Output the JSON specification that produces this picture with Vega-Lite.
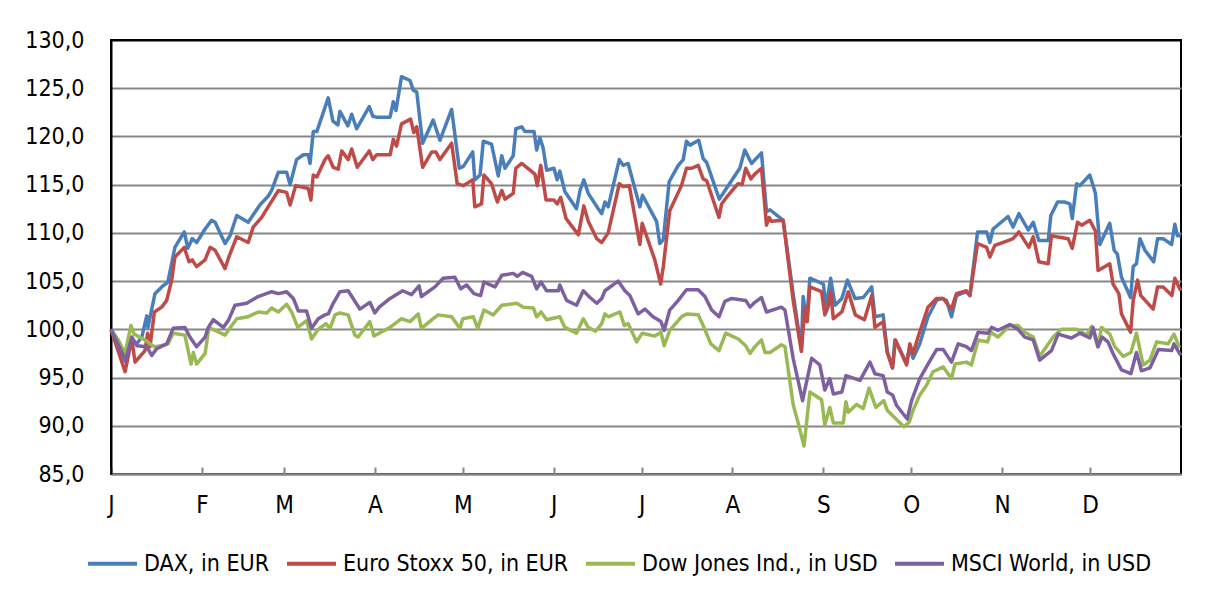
{
  "$schema": "https://vega.github.io/schema/vega-lite/v6.json",
  "width": 1070,
  "height": 434,
  "autosize": {"type": "none"},
  "padding": {"left": 111, "top": 40, "right": 33, "bottom": 123},
  "background": "white",
  "config": {
    "font": "Liberation Sans Narrow, DejaVu Sans Condensed, sans-serif",
    "view": {"stroke": "black", "strokeWidth": 2}
  },
  "data": {"values": [
    {"series":"DAX, in EUR","day":0,"value":100.0},{"series":"DAX, in EUR","day":5.0,"value":96.6},{"series":"DAX, in EUR","day":7.1,"value":98.9},{"series":"DAX, in EUR","day":8.8,"value":98.5},{"series":"DAX, in EUR","day":10.5,"value":99.2},{"series":"DAX, in EUR","day":12.2,"value":101.4},{"series":"DAX, in EUR","day":12.6,"value":100.2},{"series":"DAX, in EUR","day":15.0,"value":103.7},{"series":"DAX, in EUR","day":17.3,"value":104.4},{"series":"DAX, in EUR","day":19.4,"value":104.9},{"series":"DAX, in EUR","day":21.8,"value":108.5},{"series":"DAX, in EUR","day":25.0,"value":110.1},{"series":"DAX, in EUR","day":26.2,"value":108.4},{"series":"DAX, in EUR","day":27.7,"value":109.4},{"series":"DAX, in EUR","day":29.2,"value":109.0},{"series":"DAX, in EUR","day":32.1,"value":110.4},{"series":"DAX, in EUR","day":34.3,"value":111.3},{"series":"DAX, in EUR","day":35.5,"value":111.1},{"series":"DAX, in EUR","day":38.9,"value":108.9},{"series":"DAX, in EUR","day":40.6,"value":109.7},{"series":"DAX, in EUR","day":42.9,"value":111.8},{"series":"DAX, in EUR","day":46.8,"value":111.1},{"series":"DAX, in EUR","day":50.8,"value":112.9},{"series":"DAX, in EUR","day":53.6,"value":113.8},{"series":"DAX, in EUR","day":54.8,"value":114.4},{"series":"DAX, in EUR","day":57.1,"value":116.3},{"series":"DAX, in EUR","day":59.9,"value":116.3},{"series":"DAX, in EUR","day":61.1,"value":115.0},{"series":"DAX, in EUR","day":63.3,"value":117.6},{"series":"DAX, in EUR","day":65.6,"value":118.1},{"series":"DAX, in EUR","day":67.3,"value":118.1},{"series":"DAX, in EUR","day":67.9,"value":117.2},{"series":"DAX, in EUR","day":69.0,"value":120.5},{"series":"DAX, in EUR","day":70.2,"value":120.5},{"series":"DAX, in EUR","day":74.1,"value":124.0},{"series":"DAX, in EUR","day":75.7,"value":121.6},{"series":"DAX, in EUR","day":77.4,"value":121.2},{"series":"DAX, in EUR","day":78.1,"value":122.6},{"series":"DAX, in EUR","day":80.8,"value":121.1},{"series":"DAX, in EUR","day":82.1,"value":122.3},{"series":"DAX, in EUR","day":83.8,"value":120.8},{"series":"DAX, in EUR","day":88.1,"value":123.1},{"series":"DAX, in EUR","day":89.3,"value":122.1},{"series":"DAX, in EUR","day":90.6,"value":122.0},{"series":"DAX, in EUR","day":95.2,"value":122.0},{"series":"DAX, in EUR","day":96.3,"value":123.6},{"series":"DAX, in EUR","day":97.2,"value":122.7},{"series":"DAX, in EUR","day":99.1,"value":126.2},{"series":"DAX, in EUR","day":102.0,"value":125.8},{"series":"DAX, in EUR","day":103.1,"value":124.8},{"series":"DAX, in EUR","day":104.3,"value":124.6},{"series":"DAX, in EUR","day":106.3,"value":119.3},{"series":"DAX, in EUR","day":109.9,"value":121.7},{"series":"DAX, in EUR","day":112.2,"value":119.6},{"series":"DAX, in EUR","day":116.2,"value":122.8},{"series":"DAX, in EUR","day":118.8,"value":116.7},{"series":"DAX, in EUR","day":120.2,"value":116.9},{"series":"DAX, in EUR","day":123.4,"value":118.4},{"series":"DAX, in EUR","day":124.1,"value":115.5},{"series":"DAX, in EUR","day":125.9,"value":116.0},{"series":"DAX, in EUR","day":127.0,"value":119.5},{"series":"DAX, in EUR","day":129.8,"value":119.2},{"series":"DAX, in EUR","day":132.1,"value":115.9},{"series":"DAX, in EUR","day":133.3,"value":118.0},{"series":"DAX, in EUR","day":134.4,"value":116.7},{"series":"DAX, in EUR","day":137.2,"value":118.0},{"series":"DAX, in EUR","day":138.1,"value":120.8},{"series":"DAX, in EUR","day":140.1,"value":121.0},{"series":"DAX, in EUR","day":141.2,"value":120.5},{"series":"DAX, in EUR","day":144.3,"value":120.5},{"series":"DAX, in EUR","day":145.2,"value":118.6},{"series":"DAX, in EUR","day":146.3,"value":119.9},{"series":"DAX, in EUR","day":147.4,"value":118.8},{"series":"DAX, in EUR","day":148.6,"value":116.5},{"series":"DAX, in EUR","day":151.1,"value":116.7},{"series":"DAX, in EUR","day":152.2,"value":115.5},{"series":"DAX, in EUR","day":153.1,"value":116.4},{"series":"DAX, in EUR","day":154.8,"value":114.3},{"series":"DAX, in EUR","day":158.8,"value":112.5},{"series":"DAX, in EUR","day":160.0,"value":114.4},{"series":"DAX, in EUR","day":161.3,"value":115.5},{"series":"DAX, in EUR","day":162.8,"value":114.1},{"series":"DAX, in EUR","day":166.2,"value":112.5},{"series":"DAX, in EUR","day":167.4,"value":112.0},{"series":"DAX, in EUR","day":168.5,"value":113.2},{"series":"DAX, in EUR","day":169.6,"value":112.7},{"series":"DAX, in EUR","day":173.4,"value":117.6},{"series":"DAX, in EUR","day":174.7,"value":117.0},{"series":"DAX, in EUR","day":176.4,"value":117.2},{"series":"DAX, in EUR","day":180.4,"value":112.7},{"series":"DAX, in EUR","day":181.3,"value":113.9},{"series":"DAX, in EUR","day":186.1,"value":111.2},{"series":"DAX, in EUR","day":187.2,"value":108.9},{"series":"DAX, in EUR","day":188.4,"value":109.3},{"series":"DAX, in EUR","day":190.4,"value":115.3},{"series":"DAX, in EUR","day":193.5,"value":117.0},{"series":"DAX, in EUR","day":195.2,"value":117.6},{"series":"DAX, in EUR","day":196.3,"value":119.5},{"series":"DAX, in EUR","day":197.5,"value":119.1},{"series":"DAX, in EUR","day":200.5,"value":119.6},{"series":"DAX, in EUR","day":202.0,"value":117.7},{"series":"DAX, in EUR","day":203.2,"value":117.3},{"series":"DAX, in EUR","day":207.5,"value":113.5},{"series":"DAX, in EUR","day":208.6,"value":114.0},{"series":"DAX, in EUR","day":214.5,"value":116.7},{"series":"DAX, in EUR","day":216.2,"value":118.6},{"series":"DAX, in EUR","day":218.5,"value":117.2},{"series":"DAX, in EUR","day":221.9,"value":118.3},{"series":"DAX, in EUR","day":223.6,"value":112.2},{"series":"DAX, in EUR","day":224.8,"value":112.4},{"series":"DAX, in EUR","day":229.3,"value":111.3},{"series":"DAX, in EUR","day":232.7,"value":103.7},{"series":"DAX, in EUR","day":235.5,"value":97.9},{"series":"DAX, in EUR","day":236.1,"value":103.4},{"series":"DAX, in EUR","day":237.3,"value":100.8},{"series":"DAX, in EUR","day":238.4,"value":105.3},{"series":"DAX, in EUR","day":243.0,"value":104.7},{"series":"DAX, in EUR","day":243.9,"value":102.3},{"series":"DAX, in EUR","day":245.5,"value":105.3},{"series":"DAX, in EUR","day":247.0,"value":102.5},{"series":"DAX, in EUR","day":249.3,"value":103.2},{"series":"DAX, in EUR","day":251.2,"value":105.1},{"series":"DAX, in EUR","day":253.8,"value":103.2},{"series":"DAX, in EUR","day":256.6,"value":103.3},{"series":"DAX, in EUR","day":259.5,"value":104.4},{"series":"DAX, in EUR","day":260.6,"value":101.3},{"series":"DAX, in EUR","day":263.4,"value":101.5},{"series":"DAX, in EUR","day":264.8,"value":97.7},{"series":"DAX, in EUR","day":266.6,"value":96.0},{"series":"DAX, in EUR","day":267.4,"value":98.9},{"series":"DAX, in EUR","day":271.4,"value":96.5},{"series":"DAX, in EUR","day":272.5,"value":98.2},{"series":"DAX, in EUR","day":273.6,"value":97.0},{"series":"DAX, in EUR","day":275.9,"value":98.5},{"series":"DAX, in EUR","day":278.7,"value":101.3},{"series":"DAX, in EUR","day":281.6,"value":103.0},{"series":"DAX, in EUR","day":283.3,"value":103.2},{"series":"DAX, in EUR","day":285.0,"value":103.0},{"series":"DAX, in EUR","day":286.7,"value":101.3},{"series":"DAX, in EUR","day":288.4,"value":103.5},{"series":"DAX, in EUR","day":291.8,"value":103.9},{"series":"DAX, in EUR","day":293.0,"value":103.5},{"series":"DAX, in EUR","day":295.6,"value":110.1},{"series":"DAX, in EUR","day":298.7,"value":110.1},{"series":"DAX, in EUR","day":299.8,"value":109.0},{"series":"DAX, in EUR","day":300.9,"value":110.4},{"series":"DAX, in EUR","day":306.0,"value":111.7},{"series":"DAX, in EUR","day":307.7,"value":110.6},{"series":"DAX, in EUR","day":309.7,"value":112.0},{"series":"DAX, in EUR","day":312.9,"value":110.3},{"series":"DAX, in EUR","day":314.6,"value":111.1},{"series":"DAX, in EUR","day":316.5,"value":109.2},{"series":"DAX, in EUR","day":319.7,"value":109.2},{"series":"DAX, in EUR","day":320.6,"value":111.8},{"series":"DAX, in EUR","day":322.9,"value":113.2},{"series":"DAX, in EUR","day":325.4,"value":113.2},{"series":"DAX, in EUR","day":327.1,"value":113.0},{"series":"DAX, in EUR","day":327.9,"value":111.5},{"series":"DAX, in EUR","day":329.4,"value":115.1},{"series":"DAX, in EUR","day":330.5,"value":114.9},{"series":"DAX, in EUR","day":333.9,"value":116.0},{"series":"DAX, in EUR","day":335.8,"value":114.1},{"series":"DAX, in EUR","day":337.3,"value":108.8},{"series":"DAX, in EUR","day":340.7,"value":111.0},{"series":"DAX, in EUR","day":342.2,"value":108.2},{"series":"DAX, in EUR","day":343.3,"value":107.8},{"series":"DAX, in EUR","day":344.7,"value":105.4},{"series":"DAX, in EUR","day":347.8,"value":103.3},{"series":"DAX, in EUR","day":348.7,"value":106.5},{"series":"DAX, in EUR","day":349.8,"value":106.8},{"series":"DAX, in EUR","day":351.0,"value":109.4},{"series":"DAX, in EUR","day":352.7,"value":108.2},{"series":"DAX, in EUR","day":355.7,"value":107.0},{"series":"DAX, in EUR","day":357.0,"value":109.4},{"series":"DAX, in EUR","day":358.9,"value":109.4},{"series":"DAX, in EUR","day":361.8,"value":108.8},{"series":"DAX, in EUR","day":362.9,"value":110.9},{"series":"DAX, in EUR","day":363.8,"value":109.7},{"series":"DAX, in EUR","day":364.9,"value":109.7},

    {"series":"Euro Stoxx 50, in EUR","day":0,"value":100.0},{"series":"Euro Stoxx 50, in EUR","day":4.8,"value":95.6},{"series":"Euro Stoxx 50, in EUR","day":7.1,"value":99.0},{"series":"Euro Stoxx 50, in EUR","day":8.2,"value":96.6},{"series":"Euro Stoxx 50, in EUR","day":11.6,"value":97.8},{"series":"Euro Stoxx 50, in EUR","day":12.5,"value":99.6},{"series":"Euro Stoxx 50, in EUR","day":13.3,"value":98.2},{"series":"Euro Stoxx 50, in EUR","day":14.8,"value":101.8},{"series":"Euro Stoxx 50, in EUR","day":17.3,"value":102.3},{"series":"Euro Stoxx 50, in EUR","day":19.0,"value":103.0},{"series":"Euro Stoxx 50, in EUR","day":20.7,"value":105.1},{"series":"Euro Stoxx 50, in EUR","day":21.8,"value":107.5},{"series":"Euro Stoxx 50, in EUR","day":25.0,"value":108.5},{"series":"Euro Stoxx 50, in EUR","day":26.6,"value":107.0},{"series":"Euro Stoxx 50, in EUR","day":27.7,"value":107.2},{"series":"Euro Stoxx 50, in EUR","day":29.2,"value":106.5},{"series":"Euro Stoxx 50, in EUR","day":32.1,"value":107.2},{"series":"Euro Stoxx 50, in EUR","day":33.8,"value":108.5},{"series":"Euro Stoxx 50, in EUR","day":35.5,"value":108.2},{"series":"Euro Stoxx 50, in EUR","day":38.9,"value":106.3},{"series":"Euro Stoxx 50, in EUR","day":40.2,"value":107.5},{"series":"Euro Stoxx 50, in EUR","day":42.9,"value":109.6},{"series":"Euro Stoxx 50, in EUR","day":46.8,"value":109.0},{"series":"Euro Stoxx 50, in EUR","day":48.5,"value":110.6},{"series":"Euro Stoxx 50, in EUR","day":51.4,"value":111.6},{"series":"Euro Stoxx 50, in EUR","day":53.6,"value":112.7},{"series":"Euro Stoxx 50, in EUR","day":57.1,"value":114.4},{"series":"Euro Stoxx 50, in EUR","day":59.9,"value":114.2},{"series":"Euro Stoxx 50, in EUR","day":61.1,"value":112.9},{"series":"Euro Stoxx 50, in EUR","day":63.0,"value":114.9},{"series":"Euro Stoxx 50, in EUR","day":67.3,"value":114.6},{"series":"Euro Stoxx 50, in EUR","day":68.2,"value":113.4},{"series":"Euro Stoxx 50, in EUR","day":69.0,"value":116.0},{"series":"Euro Stoxx 50, in EUR","day":70.2,"value":115.8},{"series":"Euro Stoxx 50, in EUR","day":73.0,"value":117.6},{"series":"Euro Stoxx 50, in EUR","day":74.1,"value":118.0},{"series":"Euro Stoxx 50, in EUR","day":75.8,"value":116.8},{"series":"Euro Stoxx 50, in EUR","day":77.5,"value":116.6},{"series":"Euro Stoxx 50, in EUR","day":78.7,"value":118.5},{"series":"Euro Stoxx 50, in EUR","day":80.9,"value":117.6},{"series":"Euro Stoxx 50, in EUR","day":82.1,"value":118.7},{"series":"Euro Stoxx 50, in EUR","day":84.0,"value":116.8},{"series":"Euro Stoxx 50, in EUR","day":88.1,"value":118.5},{"series":"Euro Stoxx 50, in EUR","day":89.3,"value":117.6},{"series":"Euro Stoxx 50, in EUR","day":90.6,"value":118.1},{"series":"Euro Stoxx 50, in EUR","day":95.2,"value":118.1},{"series":"Euro Stoxx 50, in EUR","day":96.3,"value":119.7},{"series":"Euro Stoxx 50, in EUR","day":97.4,"value":119.0},{"series":"Euro Stoxx 50, in EUR","day":99.1,"value":121.3},{"series":"Euro Stoxx 50, in EUR","day":102.2,"value":121.8},{"series":"Euro Stoxx 50, in EUR","day":103.3,"value":120.4},{"series":"Euro Stoxx 50, in EUR","day":104.3,"value":121.0},{"series":"Euro Stoxx 50, in EUR","day":106.3,"value":116.8},{"series":"Euro Stoxx 50, in EUR","day":109.4,"value":118.4},{"series":"Euro Stoxx 50, in EUR","day":110.8,"value":118.4},{"series":"Euro Stoxx 50, in EUR","day":112.2,"value":117.6},{"series":"Euro Stoxx 50, in EUR","day":116.2,"value":119.3},{"series":"Euro Stoxx 50, in EUR","day":118.1,"value":115.1},{"series":"Euro Stoxx 50, in EUR","day":120.2,"value":114.9},{"series":"Euro Stoxx 50, in EUR","day":123.4,"value":115.5},{"series":"Euro Stoxx 50, in EUR","day":124.1,"value":112.7},{"series":"Euro Stoxx 50, in EUR","day":126.4,"value":113.0},{"series":"Euro Stoxx 50, in EUR","day":127.2,"value":116.0},{"series":"Euro Stoxx 50, in EUR","day":129.8,"value":115.1},{"series":"Euro Stoxx 50, in EUR","day":131.8,"value":113.2},{"series":"Euro Stoxx 50, in EUR","day":133.3,"value":114.4},{"series":"Euro Stoxx 50, in EUR","day":134.4,"value":113.5},{"series":"Euro Stoxx 50, in EUR","day":137.2,"value":114.1},{"series":"Euro Stoxx 50, in EUR","day":138.1,"value":116.7},{"series":"Euro Stoxx 50, in EUR","day":140.1,"value":117.2},{"series":"Euro Stoxx 50, in EUR","day":144.6,"value":116.1},{"series":"Euro Stoxx 50, in EUR","day":145.4,"value":114.9},{"series":"Euro Stoxx 50, in EUR","day":146.6,"value":117.0},{"series":"Euro Stoxx 50, in EUR","day":148.4,"value":113.4},{"series":"Euro Stoxx 50, in EUR","day":151.1,"value":113.4},{"series":"Euro Stoxx 50, in EUR","day":152.2,"value":113.0},{"series":"Euro Stoxx 50, in EUR","day":153.4,"value":113.7},{"series":"Euro Stoxx 50, in EUR","day":155.2,"value":111.5},{"series":"Euro Stoxx 50, in EUR","day":159.4,"value":109.8},{"series":"Euro Stoxx 50, in EUR","day":161.3,"value":112.8},{"series":"Euro Stoxx 50, in EUR","day":162.8,"value":111.2},{"series":"Euro Stoxx 50, in EUR","day":165.7,"value":109.4},{"series":"Euro Stoxx 50, in EUR","day":167.4,"value":109.0},{"series":"Euro Stoxx 50, in EUR","day":169.6,"value":110.0},{"series":"Euro Stoxx 50, in EUR","day":173.4,"value":115.1},{"series":"Euro Stoxx 50, in EUR","day":174.7,"value":114.8},{"series":"Euro Stoxx 50, in EUR","day":176.8,"value":114.9},{"series":"Euro Stoxx 50, in EUR","day":180.4,"value":108.8},{"series":"Euro Stoxx 50, in EUR","day":181.2,"value":111.0},{"series":"Euro Stoxx 50, in EUR","day":185.5,"value":107.2},{"series":"Euro Stoxx 50, in EUR","day":187.5,"value":104.7},{"series":"Euro Stoxx 50, in EUR","day":188.4,"value":106.5},{"series":"Euro Stoxx 50, in EUR","day":190.6,"value":112.3},{"series":"Euro Stoxx 50, in EUR","day":194.6,"value":114.9},{"series":"Euro Stoxx 50, in EUR","day":196.3,"value":116.7},{"series":"Euro Stoxx 50, in EUR","day":198.1,"value":116.7},{"series":"Euro Stoxx 50, in EUR","day":200.3,"value":117.0},{"series":"Euro Stoxx 50, in EUR","day":202.0,"value":115.6},{"series":"Euro Stoxx 50, in EUR","day":203.2,"value":115.4},{"series":"Euro Stoxx 50, in EUR","day":207.4,"value":111.6},{"series":"Euro Stoxx 50, in EUR","day":208.3,"value":113.0},{"series":"Euro Stoxx 50, in EUR","day":210.5,"value":113.9},{"series":"Euro Stoxx 50, in EUR","day":213.9,"value":115.1},{"series":"Euro Stoxx 50, in EUR","day":215.3,"value":115.0},{"series":"Euro Stoxx 50, in EUR","day":216.5,"value":116.7},{"series":"Euro Stoxx 50, in EUR","day":218.3,"value":115.6},{"series":"Euro Stoxx 50, in EUR","day":219.6,"value":116.1},{"series":"Euro Stoxx 50, in EUR","day":221.9,"value":116.7},{"series":"Euro Stoxx 50, in EUR","day":223.6,"value":110.8},{"series":"Euro Stoxx 50, in EUR","day":224.5,"value":111.6},{"series":"Euro Stoxx 50, in EUR","day":225.3,"value":111.2},{"series":"Euro Stoxx 50, in EUR","day":229.3,"value":111.3},{"series":"Euro Stoxx 50, in EUR","day":232.7,"value":103.0},{"series":"Euro Stoxx 50, in EUR","day":235.5,"value":97.7},{"series":"Euro Stoxx 50, in EUR","day":236.7,"value":102.3},{"series":"Euro Stoxx 50, in EUR","day":237.5,"value":100.8},{"series":"Euro Stoxx 50, in EUR","day":238.4,"value":104.4},{"series":"Euro Stoxx 50, in EUR","day":242.4,"value":103.9},{"series":"Euro Stoxx 50, in EUR","day":243.5,"value":101.5},{"series":"Euro Stoxx 50, in EUR","day":244.6,"value":102.3},{"series":"Euro Stoxx 50, in EUR","day":245.5,"value":103.9},{"series":"Euro Stoxx 50, in EUR","day":246.4,"value":101.1},{"series":"Euro Stoxx 50, in EUR","day":249.3,"value":101.8},{"series":"Euro Stoxx 50, in EUR","day":251.5,"value":103.9},{"series":"Euro Stoxx 50, in EUR","day":253.9,"value":101.5},{"series":"Euro Stoxx 50, in EUR","day":257.0,"value":101.0},{"series":"Euro Stoxx 50, in EUR","day":259.5,"value":103.5},{"series":"Euro Stoxx 50, in EUR","day":260.6,"value":100.2},{"series":"Euro Stoxx 50, in EUR","day":263.4,"value":100.8},{"series":"Euro Stoxx 50, in EUR","day":264.8,"value":97.6},{"series":"Euro Stoxx 50, in EUR","day":266.6,"value":96.0},{"series":"Euro Stoxx 50, in EUR","day":267.6,"value":98.9},{"series":"Euro Stoxx 50, in EUR","day":271.4,"value":96.3},{"series":"Euro Stoxx 50, in EUR","day":272.5,"value":98.5},{"series":"Euro Stoxx 50, in EUR","day":273.6,"value":97.5},{"series":"Euro Stoxx 50, in EUR","day":275.3,"value":99.2},{"series":"Euro Stoxx 50, in EUR","day":278.7,"value":102.3},{"series":"Euro Stoxx 50, in EUR","day":281.6,"value":103.2},{"series":"Euro Stoxx 50, in EUR","day":283.9,"value":103.2},{"series":"Euro Stoxx 50, in EUR","day":286.7,"value":102.1},{"series":"Euro Stoxx 50, in EUR","day":288.4,"value":103.7},{"series":"Euro Stoxx 50, in EUR","day":291.8,"value":104.0},{"series":"Euro Stoxx 50, in EUR","day":293.0,"value":103.5},{"series":"Euro Stoxx 50, in EUR","day":295.6,"value":108.9},{"series":"Euro Stoxx 50, in EUR","day":298.7,"value":108.5},{"series":"Euro Stoxx 50, in EUR","day":299.8,"value":107.5},{"series":"Euro Stoxx 50, in EUR","day":301.5,"value":108.7},{"series":"Euro Stoxx 50, in EUR","day":306.0,"value":109.2},{"series":"Euro Stoxx 50, in EUR","day":307.7,"value":109.4},{"series":"Euro Stoxx 50, in EUR","day":309.7,"value":110.1},{"series":"Euro Stoxx 50, in EUR","day":313.1,"value":108.5},{"series":"Euro Stoxx 50, in EUR","day":314.6,"value":109.6},{"series":"Euro Stoxx 50, in EUR","day":316.5,"value":107.0},{"series":"Euro Stoxx 50, in EUR","day":319.7,"value":106.8},{"series":"Euro Stoxx 50, in EUR","day":320.8,"value":109.7},{"series":"Euro Stoxx 50, in EUR","day":322.5,"value":109.6},{"series":"Euro Stoxx 50, in EUR","day":326.5,"value":109.4},{"series":"Euro Stoxx 50, in EUR","day":327.9,"value":108.4},{"series":"Euro Stoxx 50, in EUR","day":329.7,"value":111.1},{"series":"Euro Stoxx 50, in EUR","day":331.1,"value":110.8},{"series":"Euro Stoxx 50, in EUR","day":333.9,"value":111.3},{"series":"Euro Stoxx 50, in EUR","day":335.8,"value":110.2},{"series":"Euro Stoxx 50, in EUR","day":336.7,"value":106.1},{"series":"Euro Stoxx 50, in EUR","day":340.7,"value":106.8},{"series":"Euro Stoxx 50, in EUR","day":341.8,"value":104.7},{"series":"Euro Stoxx 50, in EUR","day":343.8,"value":103.7},{"series":"Euro Stoxx 50, in EUR","day":344.7,"value":101.6},{"series":"Euro Stoxx 50, in EUR","day":347.8,"value":99.7},{"series":"Euro Stoxx 50, in EUR","day":348.7,"value":103.0},{"series":"Euro Stoxx 50, in EUR","day":350.2,"value":105.1},{"series":"Euro Stoxx 50, in EUR","day":351.3,"value":103.5},{"series":"Euro Stoxx 50, in EUR","day":355.5,"value":102.1},{"series":"Euro Stoxx 50, in EUR","day":357.0,"value":104.4},{"series":"Euro Stoxx 50, in EUR","day":358.9,"value":104.4},{"series":"Euro Stoxx 50, in EUR","day":361.9,"value":103.5},{"series":"Euro Stoxx 50, in EUR","day":362.9,"value":105.3},{"series":"Euro Stoxx 50, in EUR","day":364.9,"value":104.0},

    {"series":"Dow Jones Ind., in USD","day":0,"value":100.0},{"series":"Dow Jones Ind., in USD","day":2.5,"value":98.9},{"series":"Dow Jones Ind., in USD","day":4.8,"value":97.5},{"series":"Dow Jones Ind., in USD","day":6.8,"value":100.4},{"series":"Dow Jones Ind., in USD","day":7.9,"value":99.5},{"series":"Dow Jones Ind., in USD","day":11.6,"value":98.9},{"series":"Dow Jones Ind., in USD","day":13.3,"value":98.5},{"series":"Dow Jones Ind., in USD","day":14.8,"value":98.2},{"series":"Dow Jones Ind., in USD","day":17.3,"value":98.3},{"series":"Dow Jones Ind., in USD","day":19.5,"value":98.5},{"series":"Dow Jones Ind., in USD","day":21.2,"value":99.6},{"series":"Dow Jones Ind., in USD","day":25.2,"value":99.4},{"series":"Dow Jones Ind., in USD","day":27.3,"value":96.4},{"series":"Dow Jones Ind., in USD","day":28.1,"value":97.6},{"series":"Dow Jones Ind., in USD","day":29.2,"value":96.4},{"series":"Dow Jones Ind., in USD","day":32.1,"value":97.5},{"series":"Dow Jones Ind., in USD","day":33.4,"value":100.2},{"series":"Dow Jones Ind., in USD","day":35.5,"value":99.9},{"series":"Dow Jones Ind., in USD","day":38.9,"value":99.4},{"series":"Dow Jones Ind., in USD","day":41.2,"value":100.4},{"series":"Dow Jones Ind., in USD","day":42.9,"value":101.1},{"series":"Dow Jones Ind., in USD","day":46.8,"value":101.3},{"series":"Dow Jones Ind., in USD","day":50.2,"value":101.8},{"series":"Dow Jones Ind., in USD","day":53.1,"value":101.7},{"series":"Dow Jones Ind., in USD","day":54.8,"value":102.2},{"series":"Dow Jones Ind., in USD","day":57.1,"value":101.8},{"series":"Dow Jones Ind., in USD","day":59.9,"value":102.6},{"series":"Dow Jones Ind., in USD","day":61.6,"value":101.8},{"series":"Dow Jones Ind., in USD","day":63.7,"value":100.2},{"series":"Dow Jones Ind., in USD","day":66.7,"value":100.9},{"series":"Dow Jones Ind., in USD","day":68.4,"value":99.0},{"series":"Dow Jones Ind., in USD","day":70.7,"value":100.0},{"series":"Dow Jones Ind., in USD","day":73.3,"value":100.6},{"series":"Dow Jones Ind., in USD","day":74.7,"value":100.1},{"series":"Dow Jones Ind., in USD","day":76.4,"value":101.5},{"series":"Dow Jones Ind., in USD","day":78.1,"value":101.7},{"series":"Dow Jones Ind., in USD","day":80.9,"value":101.5},{"series":"Dow Jones Ind., in USD","day":83.2,"value":99.4},{"series":"Dow Jones Ind., in USD","day":84.3,"value":99.2},{"series":"Dow Jones Ind., in USD","day":88.3,"value":100.8},{"series":"Dow Jones Ind., in USD","day":89.7,"value":99.3},{"series":"Dow Jones Ind., in USD","day":95.2,"value":100.2},{"series":"Dow Jones Ind., in USD","day":99.1,"value":101.1},{"series":"Dow Jones Ind., in USD","day":102.0,"value":100.8},{"series":"Dow Jones Ind., in USD","day":104.8,"value":101.6},{"series":"Dow Jones Ind., in USD","day":105.9,"value":100.1},{"series":"Dow Jones Ind., in USD","day":109.9,"value":101.1},{"series":"Dow Jones Ind., in USD","day":111.6,"value":101.5},{"series":"Dow Jones Ind., in USD","day":116.2,"value":101.3},{"series":"Dow Jones Ind., in USD","day":119.0,"value":100.1},{"series":"Dow Jones Ind., in USD","day":120.0,"value":101.1},{"series":"Dow Jones Ind., in USD","day":123.6,"value":101.3},{"series":"Dow Jones Ind., in USD","day":125.1,"value":100.1},{"series":"Dow Jones Ind., in USD","day":127.2,"value":102.0},{"series":"Dow Jones Ind., in USD","day":130.4,"value":101.5},{"series":"Dow Jones Ind., in USD","day":133.3,"value":102.5},{"series":"Dow Jones Ind., in USD","day":138.4,"value":102.7},{"series":"Dow Jones Ind., in USD","day":140.7,"value":102.3},{"series":"Dow Jones Ind., in USD","day":144.1,"value":102.2},{"series":"Dow Jones Ind., in USD","day":145.2,"value":101.3},{"series":"Dow Jones Ind., in USD","day":146.7,"value":101.8},{"series":"Dow Jones Ind., in USD","day":148.6,"value":101.0},{"series":"Dow Jones Ind., in USD","day":153.1,"value":101.3},{"series":"Dow Jones Ind., in USD","day":154.8,"value":100.2},{"series":"Dow Jones Ind., in USD","day":158.8,"value":99.6},{"series":"Dow Jones Ind., in USD","day":161.1,"value":101.1},{"series":"Dow Jones Ind., in USD","day":162.8,"value":100.2},{"series":"Dow Jones Ind., in USD","day":165.3,"value":99.8},{"series":"Dow Jones Ind., in USD","day":167.4,"value":100.6},{"series":"Dow Jones Ind., in USD","day":168.5,"value":101.6},{"series":"Dow Jones Ind., in USD","day":169.6,"value":101.3},{"series":"Dow Jones Ind., in USD","day":173.6,"value":101.8},{"series":"Dow Jones Ind., in USD","day":175.1,"value":100.4},{"series":"Dow Jones Ind., in USD","day":176.4,"value":100.6},{"series":"Dow Jones Ind., in USD","day":179.3,"value":98.7},{"series":"Dow Jones Ind., in USD","day":181.2,"value":99.6},{"series":"Dow Jones Ind., in USD","day":185.5,"value":99.3},{"series":"Dow Jones Ind., in USD","day":187.6,"value":99.7},{"series":"Dow Jones Ind., in USD","day":188.7,"value":98.3},{"series":"Dow Jones Ind., in USD","day":190.6,"value":99.9},{"series":"Dow Jones Ind., in USD","day":194.6,"value":101.3},{"series":"Dow Jones Ind., in USD","day":196.3,"value":101.6},{"series":"Dow Jones Ind., in USD","day":200.3,"value":101.5},{"series":"Dow Jones Ind., in USD","day":202.0,"value":100.4},{"series":"Dow Jones Ind., in USD","day":204.6,"value":98.5},{"series":"Dow Jones Ind., in USD","day":207.4,"value":97.8},{"series":"Dow Jones Ind., in USD","day":209.7,"value":99.6},{"series":"Dow Jones Ind., in USD","day":214.0,"value":99.0},{"series":"Dow Jones Ind., in USD","day":216.5,"value":98.3},{"series":"Dow Jones Ind., in USD","day":218.0,"value":97.5},{"series":"Dow Jones Ind., in USD","day":219.6,"value":98.2},{"series":"Dow Jones Ind., in USD","day":221.9,"value":98.9},{"series":"Dow Jones Ind., in USD","day":223.1,"value":97.6},{"series":"Dow Jones Ind., in USD","day":224.8,"value":97.6},{"series":"Dow Jones Ind., in USD","day":228.7,"value":98.4},{"series":"Dow Jones Ind., in USD","day":229.9,"value":98.2},{"series":"Dow Jones Ind., in USD","day":232.7,"value":92.2},{"series":"Dow Jones Ind., in USD","day":234.4,"value":90.3},{"series":"Dow Jones Ind., in USD","day":236.4,"value":87.9},{"series":"Dow Jones Ind., in USD","day":238.4,"value":93.5},{"series":"Dow Jones Ind., in USD","day":242.4,"value":92.7},{"series":"Dow Jones Ind., in USD","day":243.5,"value":90.1},{"series":"Dow Jones Ind., in USD","day":245.2,"value":91.9},{"series":"Dow Jones Ind., in USD","day":246.4,"value":90.3},{"series":"Dow Jones Ind., in USD","day":249.8,"value":90.3},{"series":"Dow Jones Ind., in USD","day":250.7,"value":92.5},{"series":"Dow Jones Ind., in USD","day":251.5,"value":91.4},{"series":"Dow Jones Ind., in USD","day":254.3,"value":92.2},{"series":"Dow Jones Ind., in USD","day":256.6,"value":91.8},{"series":"Dow Jones Ind., in USD","day":258.6,"value":93.9},{"series":"Dow Jones Ind., in USD","day":260.9,"value":91.9},{"series":"Dow Jones Ind., in USD","day":263.6,"value":92.6},{"series":"Dow Jones Ind., in USD","day":264.8,"value":91.6},{"series":"Dow Jones Ind., in USD","day":267.1,"value":90.9},{"series":"Dow Jones Ind., in USD","day":270.5,"value":89.9},{"series":"Dow Jones Ind., in USD","day":272.3,"value":90.4},{"series":"Dow Jones Ind., in USD","day":273.6,"value":91.6},{"series":"Dow Jones Ind., in USD","day":275.9,"value":93.2},{"series":"Dow Jones Ind., in USD","day":278.2,"value":94.2},{"series":"Dow Jones Ind., in USD","day":280.4,"value":95.6},{"series":"Dow Jones Ind., in USD","day":283.9,"value":96.1},{"series":"Dow Jones Ind., in USD","day":286.7,"value":94.9},{"series":"Dow Jones Ind., in USD","day":287.9,"value":96.4},{"series":"Dow Jones Ind., in USD","day":291.8,"value":96.6},{"series":"Dow Jones Ind., in USD","day":293.5,"value":96.3},{"series":"Dow Jones Ind., in USD","day":295.8,"value":98.9},{"series":"Dow Jones Ind., in USD","day":299.0,"value":98.7},{"series":"Dow Jones Ind., in USD","day":300.1,"value":99.7},{"series":"Dow Jones Ind., in USD","day":302.6,"value":99.2},{"series":"Dow Jones Ind., in USD","day":306.6,"value":100.4},{"series":"Dow Jones Ind., in USD","day":309.4,"value":100.4},{"series":"Dow Jones Ind., in USD","day":311.7,"value":99.7},{"series":"Dow Jones Ind., in USD","day":314.6,"value":99.2},{"series":"Dow Jones Ind., in USD","day":316.8,"value":97.2},{"series":"Dow Jones Ind., in USD","day":321.4,"value":99.2},{"series":"Dow Jones Ind., in USD","day":324.2,"value":100.0},{"series":"Dow Jones Ind., in USD","day":329.4,"value":100.0},{"series":"Dow Jones Ind., in USD","day":332.8,"value":99.4},{"series":"Dow Jones Ind., in USD","day":334.5,"value":100.3},{"series":"Dow Jones Ind., in USD","day":336.6,"value":98.2},{"series":"Dow Jones Ind., in USD","day":337.9,"value":100.2},{"series":"Dow Jones Ind., in USD","day":340.7,"value":99.5},{"series":"Dow Jones Ind., in USD","day":342.4,"value":98.2},{"series":"Dow Jones Ind., in USD","day":345.3,"value":97.2},{"series":"Dow Jones Ind., in USD","day":347.9,"value":97.6},{"series":"Dow Jones Ind., in USD","day":349.8,"value":99.6},{"series":"Dow Jones Ind., in USD","day":352.1,"value":96.3},{"series":"Dow Jones Ind., in USD","day":354.4,"value":96.8},{"series":"Dow Jones Ind., in USD","day":356.7,"value":98.7},{"series":"Dow Jones Ind., in USD","day":360.6,"value":98.5},{"series":"Dow Jones Ind., in USD","day":362.6,"value":99.5},{"series":"Dow Jones Ind., in USD","day":364.5,"value":98.1},

    {"series":"MSCI World, in USD","day":0,"value":100.0},{"series":"MSCI World, in USD","day":5.0,"value":96.8},{"series":"MSCI World, in USD","day":7.1,"value":99.2},{"series":"MSCI World, in USD","day":8.8,"value":98.3},{"series":"MSCI World, in USD","day":12.2,"value":98.2},{"series":"MSCI World, in USD","day":13.9,"value":97.3},{"series":"MSCI World, in USD","day":15.6,"value":98.0},{"series":"MSCI World, in USD","day":19.0,"value":98.5},{"series":"MSCI World, in USD","day":21.2,"value":100.1},{"series":"MSCI World, in USD","day":25.2,"value":100.2},{"series":"MSCI World, in USD","day":26.9,"value":99.2},{"series":"MSCI World, in USD","day":29.2,"value":98.2},{"series":"MSCI World, in USD","day":32.1,"value":99.2},{"series":"MSCI World, in USD","day":33.2,"value":100.2},{"series":"MSCI World, in USD","day":34.9,"value":101.0},{"series":"MSCI World, in USD","day":38.3,"value":100.2},{"series":"MSCI World, in USD","day":40.0,"value":100.9},{"series":"MSCI World, in USD","day":42.3,"value":102.5},{"series":"MSCI World, in USD","day":46.3,"value":102.7},{"series":"MSCI World, in USD","day":50.2,"value":103.4},{"series":"MSCI World, in USD","day":54.8,"value":103.9},{"series":"MSCI World, in USD","day":57.1,"value":103.7},{"series":"MSCI World, in USD","day":59.9,"value":103.9},{"series":"MSCI World, in USD","day":62.2,"value":103.2},{"series":"MSCI World, in USD","day":63.9,"value":101.9},{"series":"MSCI World, in USD","day":66.7,"value":101.9},{"series":"MSCI World, in USD","day":68.4,"value":100.1},{"series":"MSCI World, in USD","day":70.7,"value":101.1},{"series":"MSCI World, in USD","day":73.0,"value":101.5},{"series":"MSCI World, in USD","day":74.1,"value":101.6},{"series":"MSCI World, in USD","day":75.8,"value":102.7},{"series":"MSCI World, in USD","day":78.1,"value":103.9},{"series":"MSCI World, in USD","day":80.9,"value":104.0},{"series":"MSCI World, in USD","day":84.9,"value":102.1},{"series":"MSCI World, in USD","day":88.3,"value":102.8},{"series":"MSCI World, in USD","day":90.0,"value":101.7},{"series":"MSCI World, in USD","day":91.5,"value":102.3},{"series":"MSCI World, in USD","day":95.2,"value":103.2},{"series":"MSCI World, in USD","day":99.5,"value":104.0},{"series":"MSCI World, in USD","day":102.5,"value":103.6},{"series":"MSCI World, in USD","day":105.1,"value":104.5},{"series":"MSCI World, in USD","day":105.9,"value":103.4},{"series":"MSCI World, in USD","day":110.5,"value":104.4},{"series":"MSCI World, in USD","day":113.3,"value":105.3},{"series":"MSCI World, in USD","day":117.3,"value":105.4},{"series":"MSCI World, in USD","day":119.3,"value":104.2},{"series":"MSCI World, in USD","day":121.3,"value":104.6},{"series":"MSCI World, in USD","day":123.8,"value":103.7},{"series":"MSCI World, in USD","day":126.1,"value":103.5},{"series":"MSCI World, in USD","day":127.2,"value":104.9},{"series":"MSCI World, in USD","day":131.0,"value":104.4},{"series":"MSCI World, in USD","day":133.3,"value":105.6},{"series":"MSCI World, in USD","day":137.2,"value":105.8},{"series":"MSCI World, in USD","day":138.6,"value":105.5},{"series":"MSCI World, in USD","day":140.4,"value":105.9},{"series":"MSCI World, in USD","day":143.5,"value":105.5},{"series":"MSCI World, in USD","day":145.2,"value":104.2},{"series":"MSCI World, in USD","day":146.7,"value":104.9},{"series":"MSCI World, in USD","day":148.6,"value":104.0},{"series":"MSCI World, in USD","day":152.6,"value":104.0},{"series":"MSCI World, in USD","day":153.1,"value":104.6},{"series":"MSCI World, in USD","day":155.4,"value":103.0},{"series":"MSCI World, in USD","day":158.8,"value":102.5},{"series":"MSCI World, in USD","day":161.1,"value":104.0},{"series":"MSCI World, in USD","day":163.4,"value":103.3},{"series":"MSCI World, in USD","day":165.7,"value":102.7},{"series":"MSCI World, in USD","day":167.4,"value":103.2},{"series":"MSCI World, in USD","day":168.5,"value":104.0},{"series":"MSCI World, in USD","day":173.0,"value":105.0},{"series":"MSCI World, in USD","day":175.3,"value":104.0},{"series":"MSCI World, in USD","day":177.0,"value":103.5},{"series":"MSCI World, in USD","day":179.8,"value":101.6},{"series":"MSCI World, in USD","day":182.1,"value":102.1},{"series":"MSCI World, in USD","day":184.9,"value":101.3},{"series":"MSCI World, in USD","day":187.6,"value":100.8},{"series":"MSCI World, in USD","day":188.7,"value":99.9},{"series":"MSCI World, in USD","day":190.6,"value":102.0},{"series":"MSCI World, in USD","day":193.5,"value":103.0},{"series":"MSCI World, in USD","day":196.3,"value":104.1},{"series":"MSCI World, in USD","day":200.3,"value":104.1},{"series":"MSCI World, in USD","day":202.6,"value":103.4},{"series":"MSCI World, in USD","day":204.9,"value":102.0},{"series":"MSCI World, in USD","day":207.4,"value":101.3},{"series":"MSCI World, in USD","day":209.4,"value":102.9},{"series":"MSCI World, in USD","day":211.7,"value":103.2},{"series":"MSCI World, in USD","day":216.5,"value":103.0},{"series":"MSCI World, in USD","day":218.0,"value":102.3},{"series":"MSCI World, in USD","day":219.6,"value":102.8},{"series":"MSCI World, in USD","day":221.9,"value":103.3},{"series":"MSCI World, in USD","day":223.6,"value":101.8},{"series":"MSCI World, in USD","day":228.7,"value":102.3},{"series":"MSCI World, in USD","day":229.9,"value":102.0},{"series":"MSCI World, in USD","day":232.7,"value":97.0},{"series":"MSCI World, in USD","day":235.9,"value":92.6},{"series":"MSCI World, in USD","day":239.0,"value":97.0},{"series":"MSCI World, in USD","day":241.8,"value":96.3},{"series":"MSCI World, in USD","day":243.5,"value":93.7},{"series":"MSCI World, in USD","day":245.2,"value":94.9},{"series":"MSCI World, in USD","day":246.4,"value":93.3},{"series":"MSCI World, in USD","day":249.3,"value":93.5},{"series":"MSCI World, in USD","day":250.7,"value":95.2},{"series":"MSCI World, in USD","day":255.5,"value":94.7},{"series":"MSCI World, in USD","day":258.9,"value":96.6},{"series":"MSCI World, in USD","day":260.6,"value":95.4},{"series":"MSCI World, in USD","day":263.4,"value":95.2},{"series":"MSCI World, in USD","day":264.8,"value":93.5},{"series":"MSCI World, in USD","day":266.6,"value":93.2},{"series":"MSCI World, in USD","day":268.0,"value":92.1},{"series":"MSCI World, in USD","day":271.6,"value":90.7},{"series":"MSCI World, in USD","day":273.1,"value":92.6},{"series":"MSCI World, in USD","day":275.9,"value":94.9},{"series":"MSCI World, in USD","day":278.7,"value":96.4},{"series":"MSCI World, in USD","day":281.6,"value":97.9},{"series":"MSCI World, in USD","day":283.9,"value":97.9},{"series":"MSCI World, in USD","day":286.7,"value":96.6},{"series":"MSCI World, in USD","day":289.0,"value":98.5},{"series":"MSCI World, in USD","day":291.8,"value":98.2},{"series":"MSCI World, in USD","day":293.5,"value":97.8},{"series":"MSCI World, in USD","day":295.8,"value":99.7},{"series":"MSCI World, in USD","day":299.2,"value":99.6},{"series":"MSCI World, in USD","day":300.4,"value":100.2},{"series":"MSCI World, in USD","day":302.6,"value":99.9},{"series":"MSCI World, in USD","day":306.6,"value":100.5},{"series":"MSCI World, in USD","day":309.4,"value":100.0},{"series":"MSCI World, in USD","day":311.7,"value":99.2},{"series":"MSCI World, in USD","day":314.6,"value":98.9},{"series":"MSCI World, in USD","day":316.8,"value":96.8},{"series":"MSCI World, in USD","day":320.8,"value":97.8},{"series":"MSCI World, in USD","day":323.1,"value":99.5},{"series":"MSCI World, in USD","day":327.6,"value":99.1},{"series":"MSCI World, in USD","day":330.5,"value":99.6},{"series":"MSCI World, in USD","day":333.9,"value":99.1},{"series":"MSCI World, in USD","day":335.0,"value":100.2},{"series":"MSCI World, in USD","day":336.7,"value":98.2},{"series":"MSCI World, in USD","day":338.1,"value":99.2},{"series":"MSCI World, in USD","day":340.1,"value":98.7},{"series":"MSCI World, in USD","day":341.8,"value":97.5},{"series":"MSCI World, in USD","day":344.7,"value":95.8},{"series":"MSCI World, in USD","day":347.9,"value":95.4},{"series":"MSCI World, in USD","day":349.8,"value":97.6},{"series":"MSCI World, in USD","day":351.5,"value":95.7},{"series":"MSCI World, in USD","day":354.4,"value":96.0},{"series":"MSCI World, in USD","day":357.3,"value":97.9},{"series":"MSCI World, in USD","day":361.8,"value":97.8},{"series":"MSCI World, in USD","day":362.6,"value":98.5},{"series":"MSCI World, in USD","day":364.9,"value":97.3}
  ]},
  "mark": {"type": "line", "strokeWidth": 3.5, "strokeJoin": "round"},
  "encoding": {
    "x": {
      "field": "day", "type": "quantitative",
      "scale": {"domain": [0, 365], "nice": false, "zero": false},
      "axis": {
        "title": null,
        "values": [0, 31, 59, 90, 120, 151, 181, 212, 243, 273, 304, 334],
        "labelExpr": "['J','F','M','A','M','J','J','A','S','O','N','D'][indexof([0,31,59,90,120,151,181,212,243,273,304,334], datum.value)]",
        "grid": false,
        "domainColor": "#868686", "domainWidth": 2,
        "tickColor": "#868686", "tickWidth": 2, "tickSize": -7,
        "labelPadding": 26, "labelFontSize": 24, "labelColor": "black",
        "labelFlush": false
      }
    },
    "y": {
      "field": "value", "type": "quantitative",
      "scale": {"domain": [85, 130], "nice": false, "zero": false},
      "axis": {
        "title": null,
        "values": [85, 90, 95, 100, 105, 110, 115, 120, 125, 130],
        "labelExpr": "replace(format(datum.value, '.1f'), '.', ',')",
        "ticks": false,
        "grid": true,
        "gridColor": {"condition": {"test": "datum.value == 130", "value": "black"}, "value": "#878787"},
        "gridWidth": 2,
        "domainColor": "black", "domainWidth": 2,
        "labelPadding": 27, "labelFontSize": 23, "labelColor": "black"
      }
    },
    "color": {
      "field": "series", "type": "nominal",
      "scale": {
        "domain": ["DAX, in EUR", "Euro Stoxx 50, in EUR", "Dow Jones Ind., in USD", "MSCI World, in USD"],
        "range": ["#4a7ebb", "#be4b48", "#98b954", "#7d60a0"]
      },
      "legend": {
        "title": null, "orient": "none", "direction": "horizontal",
        "legendX": -25, "legendY": 497,
        "symbolType": "stroke", "symbolSize": 2400, "symbolStrokeWidth": 4,
        "labelFontSize": 23, "labelColor": "black", "labelLimit": 400,
        "labelOffset": 5, "columnPadding": 9
      }
    }
  }
}
